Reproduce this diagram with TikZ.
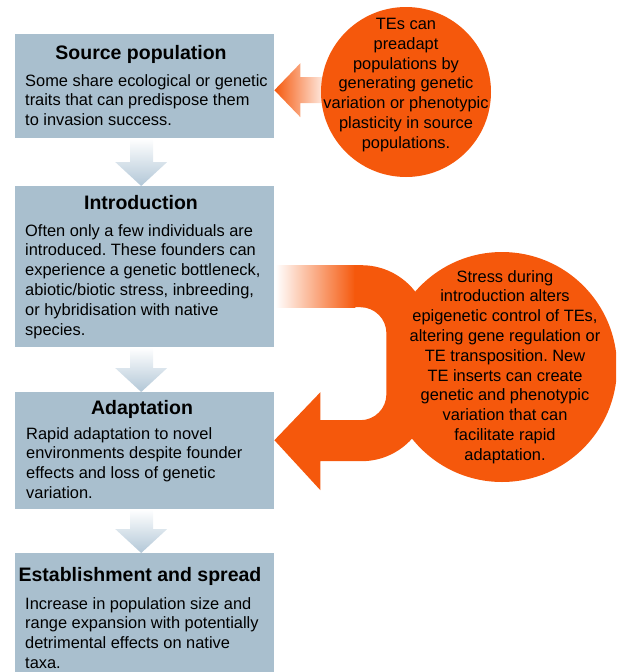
\documentclass[tikz,border=0pt]{standalone}
\usepackage{fontspec}
\setmainfont{Liberation Sans}
\frenchspacing

\definecolor{stageblue}{RGB}{169,191,206}
\definecolor{flowblue}{RGB}{178,199,215}
\definecolor{teorange}{RGB}{245,88,12}

\newcommand{\titlefont}{\fontsize{19.5}{23}\selectfont\bfseries}
\newcommand{\bodyfont}{\fontsize{16.4}{19.8}\selectfont}

% shaded block arrow from one stage box down to the next
\newcommand{\stageflow}[2]{%
  \shade[top color=white, bottom color=flowblue]
    ([xshift=-14.5pt]#1.south) -- ([xshift=8.5pt]#1.south)
    -- ([shift={(8.5pt,24pt)}]#2.north) -- ([shift={(22.5pt,24pt)}]#2.north)
    -- ([xshift=-3.5pt]#2.north)
    -- ([shift={(-29.5pt,24pt)}]#2.north) -- ([shift={(-14.5pt,24pt)}]#2.north)
    -- cycle;}

\begin{document}
\begin{tikzpicture}[
    x=1pt, y=1pt,
    stage/.style={fill=stageblue, anchor=north west, minimum width=259pt, inner sep=0pt},
    stagetitle/.style={font=\titlefont, anchor=base, inner sep=0pt},
    stagetext/.style={font=\bodyfont, align=left, anchor=north west, inner sep=0pt},
    tecircle/.style={circle, fill=teorange, inner sep=0pt},
    tetext/.style={font=\bodyfont, align=center, inner sep=0pt}
]
    \useasboundingbox (0,0) rectangle (616,-672);
    \clip (0,0) rectangle (616,-672);

    % Stage boxes
    \node[stage, minimum height=104pt] (source) at (15,-34) {};
    \node[stage, minimum height=161pt] (intro) at (15,-186) {};
    \node[stage, minimum height=117pt] (adapt) at (15,-392) {};
    \node[stage, minimum height=130pt] (estab) at (15,-553) {};

    % Arrows between stages
    \stageflow{source}{intro}
    \stageflow{intro}{adapt}
    \stageflow{adapt}{estab}

    % TEs in the source population
    \shade[left color=teorange, right color=white]
        ([yshift=-4pt]source.east) -- ++(26,27) -- ++(0,-14) -- ++(30,0)
        -- ++(0,-26) -- ++(-30,0) -- ++(0,-14) -- cycle;
    \node[tecircle, minimum size=170pt] (preadapt) at (406,-92) {};

    % TEs during introduction: U-turn arrow back into adaptation
    \shade[left color=white, right color=teorange]
        ([shift={(1pt,1.5pt)}]intro.east) rectangle ++(80,-42);
    \fill[teorange] ([shift={(80pt,1.5pt)}]intro.east) -- ++(7,0)
        arc[start angle=90, end angle=0, radius=68] -- ++(0,-60)
        arc[start angle=0, end angle=-90, radius=68] -- ++(-41,0) -- ++(0,-29)
        -- ([yshift=10.5pt]adapt.east) -- ++(46,48) -- ++(0,-28) -- ++(40,0)
        arc[start angle=-90, end angle=0, radius=26] -- ++(0,61)
        arc[start angle=0, end angle=90, radius=26] -- ++(-6,0) -- cycle;
    \node[tecircle, minimum size=230pt] (stress) at (502,-367) {};

    % Stage titles and descriptions
    \node[stagetitle] (sourcetitle) at (141,-59) {Source population};
    \node[stagetext] (sourcetext) at (25,-74) {Some share ecological or genetic\\
        traits that can predispose them\\to invasion success.};

    \node[stagetitle] (introtitle) at (141,-209) {Introduction};
    \node[stagetext] (introtext) at (25,-224) {Often only a few individuals are\\
        introduced. These founders can\\experience a genetic bottleneck,\\
        abiotic/biotic stress, inbreeding,\\or hybridisation with native\\species.};

    \node[stagetitle] (adapttitle) at (142,-414) {Adaptation};
    \node[stagetext] (adapttext) at (26,-427) {Rapid adaptation to novel\\
        environments despite founder\\effects and loss of genetic\\variation.};

    \node[stagetitle] (estabtitle) at (140,-581) {Establishment and spread};
    \node[stagetext] (estabtext) at (25,-597) {Increase in population size and\\
        range expansion with potentially\\detrimental effects on native\\taxa.};

    % Circle texts
    \node[tetext] (preadapttext) at ([yshift=7pt]preadapt.center) {TEs can\\preadapt\\
        populations by\\generating genetic\\variation or phenotypic\\
        plasticity in source\\populations.};
    \node[tetext] (stresstext) at ([xshift=3pt]stress.center) {Stress during\\
        introduction alters\\epigenetic control of TEs,\\altering gene regulation or\\
        TE transposition. New\\TE inserts can create\\genetic and phenotypic\\
        variation that can\\facilitate rapid\\adaptation.};

\end{tikzpicture}
\end{document}
